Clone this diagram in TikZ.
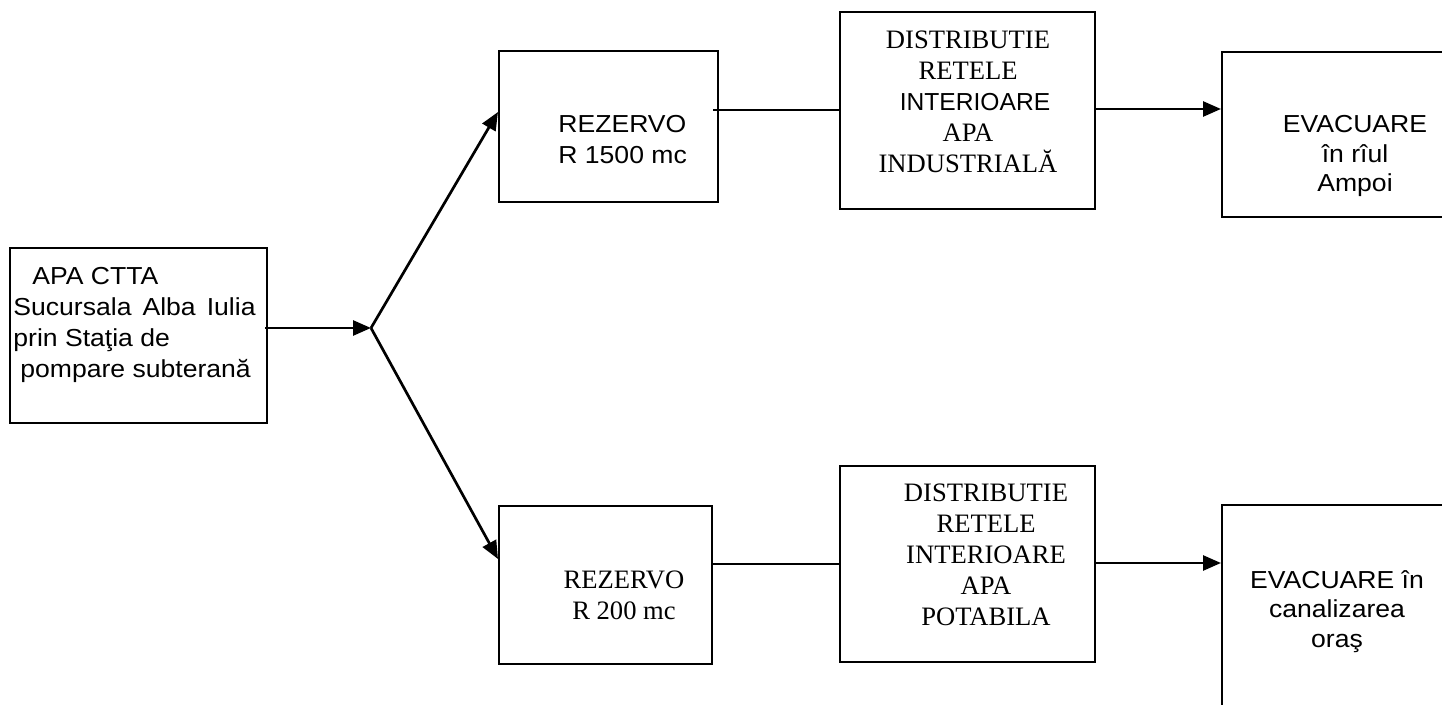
\documentclass[tikz,border=0pt]{standalone}
\usepackage{fontspec}
\setmainfont{Liberation Serif}
\newfontfamily\arialf[FakeStretch=1.08]{Liberation Sans}
\newfontfamily\arialn{Liberation Sans}
\newfontfamily\timesf{Liberation Serif}
\usetikzlibrary{arrows.meta,calc}
\begin{document}
\begin{tikzpicture}[x=0.5pt,y=-0.5pt,
  box/.style={draw,line width=1pt,rectangle,inner sep=0pt},
  sans/.style={inner sep=0pt,font=\arialf\fontsize{12.3}{15.5}\selectfont},
  sansev/.style={inner sep=0pt,font=\arialf\fontsize{12.3}{14.8}\selectfont,align=center,anchor=north},
  serif/.style={inner sep=0pt,font=\timesf\fontsize{13.3}{15.5}\selectfont,align=center,anchor=north},
  arr/.style={line width=1.35pt,-{Triangle[length=9pt,width=7.5pt]}},
  link/.style={line width=1pt}]
\useasboundingbox (0,0) rectangle (1442,705);
\clip (0,0) rectangle (1442,705);
% boxes
\node[box,minimum width=128.5pt,minimum height=87.5pt] (src) at (138.5,335.5) {};
\node[box,minimum width=109.5pt,minimum height=75.5pt] (rz1) at (608.5,126.5) {};
\node[box,minimum width=127.5pt,minimum height=98.5pt] (dist1) at (967.5,110.5) {};
\node[box,minimum width=115pt,minimum height=82.5pt] (ev1) at (1337,134.5) {};
\node[box,minimum width=106.5pt,minimum height=79pt] (rz2) at (605.5,585) {};
\node[box,minimum width=127.5pt,minimum height=98pt] (dist2) at (967.5,564) {};
\node[box,minimum width=115pt,minimum height=105pt] (ev2) at (1337,610) {};
% texts
\node[sans,align=left,anchor=north west] (tsrc) at (13,267)
  {\hspace{9.5pt}APA CTTA\\Sucursala\hspace{0.45em}Alba\hspace{0.45em}Iulia\\prin Staţia de\\\hspace{3.5pt}pompare subterană};
\node[sans,align=left,anchor=north west] (trz1) at (558,115) {REZERVO\\R 1500 mc};
\node[serif] (trz2) at (624,570) {REZERVO\\R 200 mc};
\node[serif] (tdist1) at (968,30) {DISTRIBUTIE\\RETELE\\{\arialn\fontsize{12.3}{15.5}\selectfont\hspace{7pt}INTERIOARE}\\APA\\INDUSTRIALĂ};
\node[serif] (tdist2) at (986,483) {DISTRIBUTIE\\RETELE\\INTERIOARE\\APA\\POTABILA};
\node[sansev] (tev1) at (1355,115) {EVACUARE\\în rîul\\Ampoi};
\node[sansev] (tev2) at (1337,570) {EVACUARE în\\canalizarea\\oraş};
% connectors
\coordinate (j) at (371,328);
\draw[arr] ([xshift=-1.5pt]j -| src.east) -- (j);
\draw[arr] (j) -- ($(rz1.north west)+(0,62)$);
\draw[arr] (j) -- ($(rz2.north west)+(0,54)$);
\draw[link] ([xshift=-3pt]dist1.west -| rz1.east) -- (dist1.west);
\draw[link] (dist2.west -| rz2.east) -- (dist2.west);
\draw[arr] ([yshift=0.75pt]dist1.east) -- ([yshift=0.75pt]dist1.east -| ev1.west);
\draw[arr] ([yshift=0.5pt]dist2.east) -- ([yshift=0.5pt]dist2.east -| ev2.west);
\end{tikzpicture}
\end{document}
